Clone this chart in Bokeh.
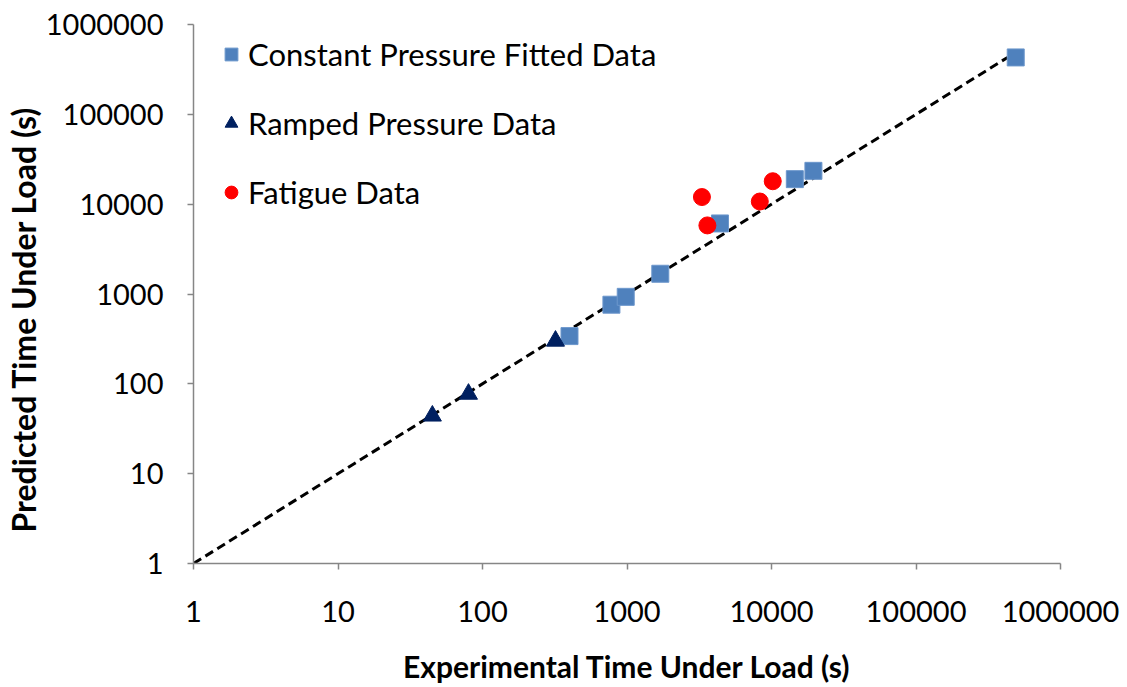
from bokeh.plotting import figure
from bokeh.models import Range1d, FixedTicker, Legend, LegendItem, Title
from bokeh.embed import file_html
from bokeh.resources import INLINE

# Data
const_x = [400, 780, 980, 1700, 4400, 14500, 19500, 490000]
const_y = [340, 760, 930, 1680, 6100, 19000, 23500, 430000]
ramp_x = [45, 80, 320]
ramp_y = [44, 77, 300]
fat_x = [3300, 3600, 8300, 10200]
fat_y = [12000, 5800, 10700, 18000]
diag = [1, 430000]
tick_vals = [1, 10, 100, 1000, 10000, 100000, 1000000]
tick_labels = ["1", "10", "100", "1000", "10000", "100000", "1000000"]

FONT = "Lato"

p = figure(width=1127, height=687, x_axis_type="log", y_axis_type="log",
           x_range=Range1d(1, 1e6), y_range=Range1d(1, 1e6),
           output_backend="svg", toolbar_location=None,
           min_border_left=193, min_border_right=67,
           min_border_top=24, min_border_bottom=124)
p.outline_line_color = None
p.xgrid.visible = False
p.ygrid.visible = False

overrides = {v: l for v, l in zip(tick_vals, tick_labels)}
for ax in (p.xaxis[0], p.yaxis[0]):
    ax.ticker = FixedTicker(ticks=tick_vals, minor_ticks=[])
    ax.major_label_overrides = overrides
    ax.axis_line_color = "#868686"
    ax.axis_line_width = 1.5
    ax.major_tick_line_color = "#868686"
    ax.major_tick_line_width = 1.5
    ax.major_tick_in = 0
    ax.major_tick_out = 6
    ax.minor_tick_line_color = None
    ax.major_label_text_font = FONT
    ax.major_label_text_font_size = "29px"
    ax.major_label_text_color = "#000000"
    ax.axis_label_text_font = FONT
    ax.axis_label_text_font_style = "bold"
    ax.axis_label_text_font_size = "30px"
    ax.axis_label_text_color = "#000000"

p.xaxis.axis_label = "Experimental Time Under Load (s)"
p.xaxis.major_label_standoff = 31
p.yaxis.major_label_standoff = 24
p.xaxis.axis_label_standoff = 23

ytitle = Title(text="Predicted Time Under Load (s)", align="left", offset=31,
               text_font=FONT, text_font_style="bold", text_font_size="32px",
               text_color="#000000", standoff=0)
p.add_layout(ytitle, "left")

p.line(diag, diag, line_color="black", line_width=3, line_dash="9 5")

r1 = p.scatter(const_x, const_y, marker="square", size=17, fill_color="#4F81BD",
               line_color="#6C97CC", line_width=1)
r2 = p.scatter(ramp_x, ramp_y, marker="triangle", size=18, fill_color="#002060",
               line_color="#002060", line_width=1)
r3 = p.scatter(fat_x, fat_y, marker="circle", size=17, fill_color="#FF0000",
               line_color="#FF0000", line_width=1)

legend = Legend(items=[
    LegendItem(label="Constant Pressure Fitted Data", renderers=[r1]),
    LegendItem(label="Ramped Pressure Data", renderers=[r2]),
    LegendItem(label="Fatigue Data", renderers=[r3]),
], location=(22, 352))
legend.border_line_color = None
legend.background_fill_alpha = 0
legend.label_text_font = FONT
legend.label_text_font_size = "31px"
legend.label_text_color = "#000000"
legend.glyph_width = 32
legend.glyph_height = 38
legend.label_height = 38
legend.spacing = 31
legend.label_standoff = 1
legend.margin = 0
legend.padding = 0
p.add_layout(legend)

open("out.html", "w").write(file_html(p, INLINE))
